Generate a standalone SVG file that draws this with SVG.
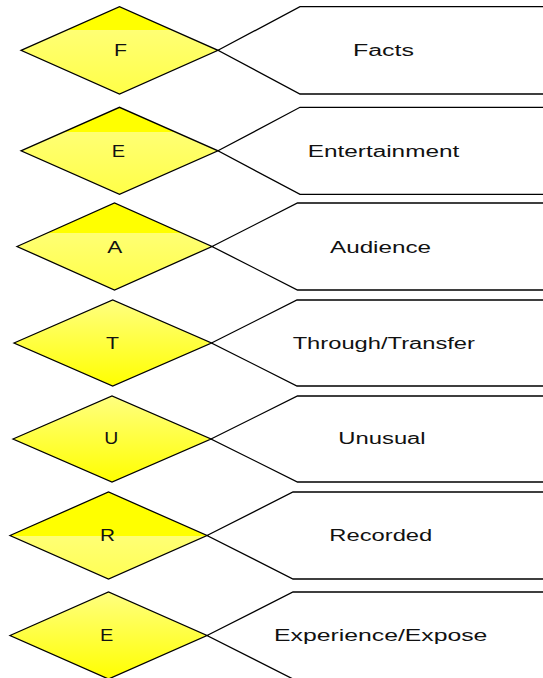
<svg xmlns="http://www.w3.org/2000/svg" width="543" height="678" viewBox="0 0 543 678">
<style>
.box{fill:#ffffff;stroke:#000000;stroke-width:1.3;stroke-linejoin:miter}
.dia{stroke:#000000;stroke-width:1.3;stroke-linejoin:miter}
.lbl{font-family:"Liberation Sans",Arial,sans-serif;font-size:16px;fill:#111111;text-anchor:middle}
</style>
<defs>
<linearGradient id="g1" x1="0" y1="0" x2="0" y2="1"><stop offset="0" stop-color="#ffff00"/><stop offset="0.27" stop-color="#ffff00"/><stop offset="0.27" stop-color="#ffff74"/><stop offset="1" stop-color="#ffff48"/></linearGradient>
<linearGradient id="g2" x1="0" y1="0" x2="0" y2="1"><stop offset="0" stop-color="#ffff00"/><stop offset="0.28" stop-color="#ffff00"/><stop offset="0.28" stop-color="#ffff74"/><stop offset="1" stop-color="#ffff48"/></linearGradient>
<linearGradient id="g3" x1="0" y1="0" x2="0" y2="1"><stop offset="0" stop-color="#ffff00"/><stop offset="0.34" stop-color="#ffff00"/><stop offset="0.34" stop-color="#ffff74"/><stop offset="1" stop-color="#ffff48"/></linearGradient>
<linearGradient id="g6" x1="0" y1="0" x2="0" y2="1"><stop offset="0" stop-color="#ffff00"/><stop offset="0.51" stop-color="#ffff00"/><stop offset="0.51" stop-color="#ffff74"/><stop offset="1" stop-color="#ffff55"/></linearGradient>
<linearGradient id="gs" x1="0" y1="0" x2="0" y2="1"><stop offset="0" stop-color="#ffff80"/><stop offset="1" stop-color="#ffff00"/></linearGradient>
</defs>

<g id="row1">
<path class="box" d="M218,50.3 L300,6.7 H560 V94 H300 Z"/>
<text class="lbl" x="383.5" y="56" textLength="61" lengthAdjust="spacingAndGlyphs">Facts</text>
</g>
<g id="node-F">
<polygon class="dia" fill="url(#g1)" points="21,50.3 119.5,6.7 218,50.3 119.5,94"/>
<text class="lbl" x="120.5" y="56" textLength="13" lengthAdjust="spacingAndGlyphs">F</text>
</g>

<g id="row2">
<path class="box" d="M218,150.8 L300,107.3 H560 V194.3 H300 Z"/>
<text class="lbl" x="383.5" y="157.3" textLength="151.6" lengthAdjust="spacingAndGlyphs">Entertainment</text>
</g>
<g id="node-E1">
<polygon class="dia" fill="url(#g2)" points="21,150.8 119.5,107.3 218,150.8 119.5,194.3"/>
<text class="lbl" x="118.3" y="157.3" textLength="13.3" lengthAdjust="spacingAndGlyphs">E</text>
</g>

<g id="row3">
<path class="box" d="M212,246.5 L297.5,203 H560 V290 H297.5 Z"/>
<text class="lbl" x="380.5" y="253.3" textLength="101" lengthAdjust="spacingAndGlyphs">Audience</text>
</g>
<g id="node-A">
<polygon class="dia" fill="url(#g3)" points="17,246.5 114.5,203 212,246.5 114.5,290"/>
<text class="lbl" x="114.8" y="253.3" textLength="15" lengthAdjust="spacingAndGlyphs">A</text>
</g>

<g id="row4">
<path class="box" d="M211.5,343 L297,300 H560 V386 H297 Z"/>
<text class="lbl" x="383.8" y="349" textLength="182.3" lengthAdjust="spacingAndGlyphs">Through/Transfer</text>
</g>
<g id="node-T">
<polygon class="dia" fill="url(#gs)" points="14,343 112.7,300 211.5,343 112.7,386"/>
<text class="lbl" x="112.5" y="349" textLength="13" lengthAdjust="spacingAndGlyphs">T</text>
</g>

<g id="row5">
<path class="box" d="M211,439 L297.5,396 H560 V482 H297.5 Z"/>
<text class="lbl" x="382" y="444.3" textLength="87.3" lengthAdjust="spacingAndGlyphs">Unusual</text>
</g>
<g id="node-U">
<polygon class="dia" fill="url(#gs)" points="13,439 112,396 211,439 112,482"/>
<text class="lbl" x="111.3" y="444.3" textLength="14" lengthAdjust="spacingAndGlyphs">U</text>
</g>

<g id="row6">
<path class="box" d="M207,535.5 L293,492 H560 V579 H293 Z"/>
<text class="lbl" x="380.8" y="541" textLength="103" lengthAdjust="spacingAndGlyphs">Recorded</text>
</g>
<g id="node-R">
<polygon class="dia" fill="url(#g6)" points="10,535.5 108.5,492 207,535.5 108.5,579"/>
<text class="lbl" x="107.5" y="541" textLength="15" lengthAdjust="spacingAndGlyphs">R</text>
</g>

<g id="row7">
<path class="box" d="M207,635.5 L293,592 H560 V679 H293 Z"/>
<text class="lbl" x="380.7" y="641" textLength="213.3" lengthAdjust="spacingAndGlyphs">Experience/Expose</text>
</g>
<g id="node-E2">
<polygon class="dia" fill="url(#gs)" points="10,635.5 108.5,592 207,635.5 108.5,679"/>
<text class="lbl" x="106.7" y="641" textLength="13.3" lengthAdjust="spacingAndGlyphs">E</text>
</g>
</svg>
